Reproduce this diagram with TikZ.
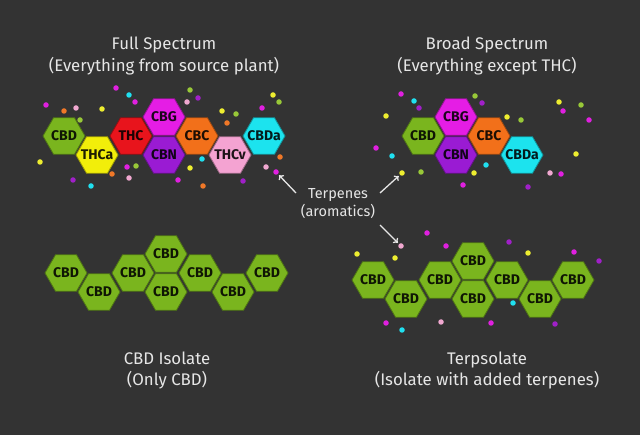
\documentclass[tikz,border=0pt]{standalone}
\usepackage{fontspec}
\setmainfont{Fira Sans}
\usetikzlibrary{shapes.geometric,arrows.meta}
\definecolor{bg}{HTML}{333333}
\definecolor{txt}{HTML}{E6E6E6}
\definecolor{hgreen}{HTML}{7AB51E}
\definecolor{hyellow}{HTML}{F2EE0A}
\definecolor{hred}{HTML}{E8141C}
\definecolor{hmagenta}{HTML}{E51DE5}
\definecolor{hpurple}{HTML}{9A1BD3}
\definecolor{horange}{HTML}{F2701A}
\definecolor{hpink}{HTML}{F4A3D2}
\definecolor{hcyan}{HTML}{1CE3EE}
\definecolor{dm}{HTML}{E020E0}
\definecolor{dc}{HTML}{20E0F0}
\definecolor{dp}{HTML}{F0A8D0}
\definecolor{do}{HTML}{F07828}
\definecolor{dy}{HTML}{EEEE30}
\definecolor{dg}{HTML}{98C838}
\definecolor{dv}{HTML}{A020C8}
\newcommand\hexlbl[1]{\makebox[0pt]{#1}}
\tikzset{
  hexa/.style={regular polygon, regular polygon sides=6, minimum size=42pt,
    inner sep=0pt, draw=#1!65!black, fill=#1, line width=0.8pt,
    text=#1!12!black, font=\fontsize{14}{15}\selectfont\bfseries},
  ttl/.style={text=txt, font=\fontsize{16.8}{19}\selectfont, anchor=base, inner sep=0pt},
  terp/.style={text=txt, font=\fontsize{14.5}{17}\selectfont, anchor=base, inner sep=0pt},
  dot/.style={circle, fill=#1, inner sep=0pt, minimum size=5.5pt},
  arr/.style={draw=txt, line width=1.3pt, -{To[length=4pt,width=7pt]}, shorten >=1.5pt}
}
\begin{document}
\begin{tikzpicture}[x=1pt,y=-1pt]
\fill[bg] (0,0) rectangle (640,435);
\useasboundingbox (0,0) rectangle (640,435);

% titles
\node[ttl] (fs1) at (164,50) {Full Spectrum};
\node[ttl] (fs2) at (164,72) {(Everything from source plant)};
\node[ttl] (bs1) at (487,50) {Broad Spectrum};
\node[ttl] (bs2) at (487,72) {(Everything except THC)};
\node[ttl] (ci1) at (167,365) {CBD Isolate};
\node[ttl] (ci2) at (167,386) {(Only CBD)};
\node[ttl] (tp1) at (487,365) {Terpsolate};
\node[ttl] (tp2) at (487,386) {(Isolate with added terpenes)};
\node[terp] (te1) at (338,199) {Terpenes};
\node[terp] (te2) at (338,217) {(aromatics)};

% dots
\foreach \x/\y/\c [count=\i] in {
 116/88/dm,129/95/dc,135/102/dm,76/108/dp,64/111/do,102/109/dy,80/120/dg,46/105/dm,
 190/90/dg,187/102/dp,198/98/dv,227/123/do,222/111/dy,236/114/dg,262/108/dm,273/95/dy,
 279/102/dg,40/162/dy,127/167/dm,136/166/dg,112/174/do,129/178/dp,73/180/dv,91/186/dc,
 178/180/dm,190/168/dy,202/159/dc,203/186/do,243/181/dv,280/157/do,266/167/dp,
 401/94/dm,414/101/dc,419/108/dv,386/116/dy,475/96/dg,482/103/dv,507/117/dy,521/120/dg,
 559/102/dy,563/111/dm,581/105/dg,589/120/dm,376/148/dm,392/156/dc,421/172/dg,486/165/dc,
 474/173/dy,463/185/dm,528/187/dv,550/173/dp,561/174/dm,576/154/dy,
 427/233/dm,446/246/dm,357/254/dy,395/258/dy,509/242/dv,528/253/dy,574/252/dm,599/261/dv,
 513/303/dc,386/323/dm,402/330/dc,441/322/dp,491/323/dm,555/324/dv}
 {\node[dot=\c] (d\i) at (\x,\y) {};}
\node[dot=dm] (tA) at (276,172) {};
\node[dot=dy] (tB) at (402,173) {};
\node[dot=dp] (tC) at (401,246) {};

% full spectrum
\node[hexa=hgreen]   (f1) at (64,136) {\hexlbl{CBD}};
\node[hexa=hyellow]  (f2) at (97,155) {\hexlbl{THCa}};
\node[hexa=hred]     (f3) at (131,136) {\hexlbl{THC}};
\node[hexa=hmagenta] (f4) at (164,117) {\hexlbl{CBG}};
\node[hexa=hpurple]  (f5) at (164,155) {\hexlbl{CBN}};
\node[hexa=horange]  (f6) at (197,136) {\hexlbl{CBC}};
\node[hexa=hpink]    (f7) at (230,155) {\hexlbl{THCv}};
\node[hexa=hcyan]    (f8) at (264,136) {\hexlbl{CBDa}};

% broad spectrum
\node[hexa=hgreen]   (b1) at (423,136) {\hexlbl{CBD}};
\node[hexa=hmagenta] (b2) at (456,117) {\hexlbl{CBG}};
\node[hexa=hpurple]  (b3) at (456,155) {\hexlbl{CBN}};
\node[hexa=horange]  (b4) at (489,136) {\hexlbl{CBC}};
\node[hexa=hcyan]    (b5) at (522,155) {\hexlbl{CBDa}};

% CBD isolate
\node[hexa=hgreen] (i1) at (66,273) {\hexlbl{CBD}};
\node[hexa=hgreen] (i2) at (99,292) {\hexlbl{CBD}};
\node[hexa=hgreen] (i3) at (133,273) {\hexlbl{CBD}};
\node[hexa=hgreen] (i4) at (166,254) {\hexlbl{CBD}};
\node[hexa=hgreen] (i5) at (166,292) {\hexlbl{CBD}};
\node[hexa=hgreen] (i6) at (200,273) {\hexlbl{CBD}};
\node[hexa=hgreen] (i7) at (233,292) {\hexlbl{CBD}};
\node[hexa=hgreen] (i8) at (267,273) {\hexlbl{CBD}};

% terpsolate
\node[hexa=hgreen] (s1) at (373,280) {\hexlbl{CBD}};
\node[hexa=hgreen] (s2) at (406,299) {\hexlbl{CBD}};
\node[hexa=hgreen] (s3) at (440,280) {\hexlbl{CBD}};
\node[hexa=hgreen] (s4) at (473,261) {\hexlbl{CBD}};
\node[hexa=hgreen] (s5) at (473,299) {\hexlbl{CBD}};
\node[hexa=hgreen] (s6) at (507,280) {\hexlbl{CBD}};
\node[hexa=hgreen] (s7) at (540,299) {\hexlbl{CBD}};
\node[hexa=hgreen] (s8) at (573,280) {\hexlbl{CBD}};

% arrows
\coordinate (aA) at (296,193);
\coordinate (aB) at (380,193);
\coordinate (aC) at (380,225);
\draw[arr] (aA) -- (tA);
\draw[arr] (aB) -- (tB);
\draw[arr] (aC) -- (tC);
\end{tikzpicture}
\end{document}
